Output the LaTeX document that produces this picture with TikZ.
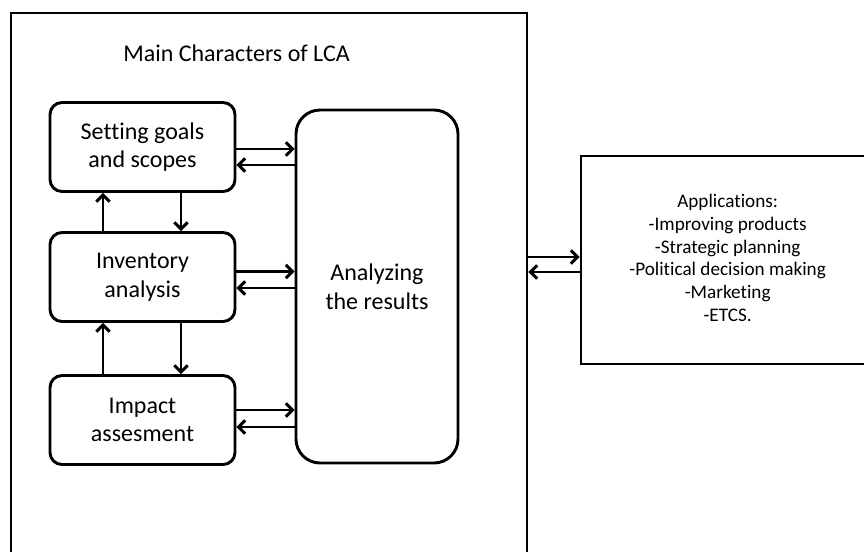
\documentclass[tikz,border=0pt]{standalone}
\usepackage{fontspec}
\setmainfont{Carlito}[Ligatures=NoCommon]
\usetikzlibrary{arrows.meta}
\begin{document}
\begin{tikzpicture}[x=0.75pt,y=-0.75pt,
  line width=2.2pt,
  stepbox/.style={draw,rounded corners=9pt,minimum width=185*0.75pt,
    minimum height=89*0.75pt,align=center,inner sep=0pt,
    font=\fontsize{18}{21.5}\selectfont},
  bigbox/.style={draw,rounded corners=18pt,minimum width=162*0.75pt,
    minimum height=353*0.75pt,align=center,inner sep=0pt,
    font=\fontsize{18}{21.5}\selectfont},
  plainbox/.style={draw,inner sep=0pt,align=center},
  arr/.style={-{Straight Barb[length=5pt,width=10pt,line width=2.2pt]}}]
\useasboundingbox (0,0) rectangle (864,551);

% container for the LCA stages (its bottom runs past the page)
\node[plainbox,minimum width=516*0.75pt,minimum height=620*0.75pt] (lca) at (269,323) {};
\node[font=\fontsize{18}{21.5}\selectfont] (title) at (236.5,53) {Main Characters of LCA};

% stages
\node[stepbox] (goal) at (142.5,147) {Setting goals\\and scopes};
\node[stepbox] (inv)  at (142.5,277) {Inventory\\analysis};
\node[stepbox] (imp)  at (142.5,420) {Impact\\assesment};
\node[bigbox]  (res)  at (377,286.5) {Analyzing\\the results};

% applications box (its right side runs past the page)
\node[plainbox,minimum width=320*0.75pt,minimum height=208*0.75pt,
  font=\fontsize{14.4}{17}\selectfont] (app) at (741,260)
  {\hspace*{-20pt}\raisebox{-2.5pt}{\begin{tabular}{@{}c@{}}Applications:\\-Improving products\\-Strategic planning\\-Political decision making\\-Marketing\\-ETCS.\end{tabular}}};

% stage <-> results
\draw[arr] (goal.east |- 0,149) -- (res.west |- 0,149);
\draw[arr] (res.west |- 0,165) -- (goal.east |- 0,165);
\draw[arr] (inv.east |- 0,271.5) -- (res.west |- 0,271.5);
\draw[arr] (res.west |- 0,288) -- (inv.east |- 0,288);
\draw[arr] (imp.east |- 0,410) -- (res.west |- 0,410);
\draw[arr] (res.west |- 0,427) -- (imp.east |- 0,427);

% stage <-> stage
\draw[arr] (inv.north -| 103,0) -- (goal.south -| 103,0);
\draw[arr] (goal.south -| 181,0) -- (inv.north -| 181,0);
\draw[arr] (imp.north -| 103,0) -- (inv.south -| 103,0);
\draw[arr] (inv.south -| 181,0) -- (imp.north -| 181,0);

% LCA <-> applications
\draw[arr] (lca.east |- 0,257) -- (app.west |- 0,257);
\draw[arr] (app.west |- 0,272) -- (lca.east |- 0,272);
\end{tikzpicture}
\end{document}
